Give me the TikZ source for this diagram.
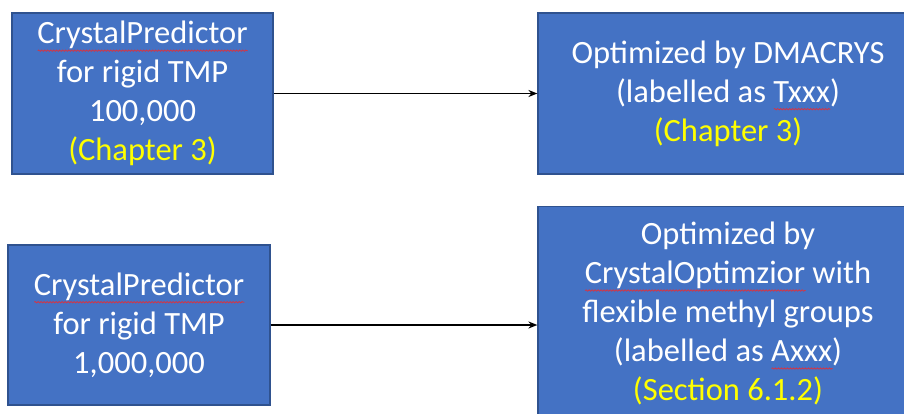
\documentclass[tikz,border=0pt]{standalone}
\usepackage{fontspec}
\setmainfont{Carlito}
\usetikzlibrary{arrows.meta,decorations.pathmorphing}
\definecolor{boxblue}{HTML}{4472C4}
\definecolor{boxedge}{HTML}{2F528F}
\definecolor{chapyellow}{HTML}{FFFF00}
\definecolor{squigred}{HTML}{E0303A}
\newlength{\sqwidth}
\newcommand{\squig}[1]{\settowidth{\sqwidth}{#1}\rlap{\smash{\raisebox{-7pt}{\tikz[baseline=0pt]\draw[squigred,line width=0.7pt,decorate,decoration={snake,amplitude=0.7pt,segment length=3pt}] (0pt,0pt) -- (\sqwidth,0pt);}}}#1}
\begin{document}
\begin{tikzpicture}[x=1pt,y=1pt,
  bluebox/.style={draw=boxedge, line width=1.2pt, fill=boxblue, text=white,
    align=center, inner sep=0pt, font=\fontsize{32.5}{39}\selectfont},
  flowarrow/.style={-{Stealth[length=9pt,width=7pt]}, line width=1.8pt, black}]
\useasboundingbox (0,0) rectangle (904,413);
\clip (0,0) rectangle (904,413);
\node[bluebox, minimum width=261, minimum height=161] (tl) at (142.5,319.5)
  {\squig{CrystalPredictor}\\for rigid TMP\\100,000\\\textcolor{chapyellow}{(Chapter 3)}};
\node[bluebox, minimum width=380, minimum height=161] (tr) at (728,319.5)
  {Optimized by DMACRYS\\(labelled as \squig{Txxx})\\\textcolor{chapyellow}{(Chapter 3)}};
\node[bluebox, minimum width=262, minimum height=160] (bl) at (139,88)
  {\squig{CrystalPredictor}\\for rigid TMP\\1,000,000};
\node[bluebox, minimum width=380, minimum height=214] (br) at (728,99.5)
  {Optimized by\\\squig{CrystalOptimzior} with\\flexible methyl groups\\(labelled as \squig{Axxx})\\\textcolor{chapyellow}{(Section 6.1.2)}};
\draw[flowarrow] (tl.east) -- (tl.east -| tr.west);
\draw[flowarrow] (bl.east) -- (bl.east -| br.west);
\end{tikzpicture}
\end{document}
